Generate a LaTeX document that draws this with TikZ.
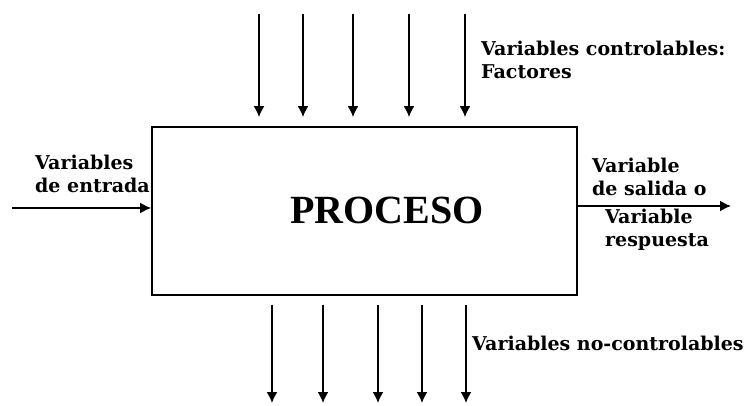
\documentclass[tikz,border=0pt]{standalone}
\usepackage{fontspec}
\setmainfont{DejaVu Serif}
\newfontfamily\procfont{Liberation Serif}
\usetikzlibrary{arrows.meta}

\begin{document}
\begin{tikzpicture}[x=1pt,y=1pt,
        arr/.style={-{Latex[length=11pt,width=11pt]},line width=1.6pt},
        lbl/.style={font=\fontsize{19}{23}\selectfont\bfseries,align=left,inner sep=0pt}]
        \useasboundingbox (0,0) rectangle (748,405);
        \begin{scope}[every node/.style={rectangle,draw,line width=1.8pt}]
            \node (proc) [minimum width=425pt, minimum height=168pt] at (364.5, 194) {};
        \end{scope}
        \node (ptxt) at (387, 195) {\procfont\fontsize{40}{44}\selectfont\bfseries PROCESO};
        % entradas controlables
        \coordinate (t1) at (259, 391);
        \coordinate (t2) at (303, 391);
        \coordinate (t3) at (353, 391);
        \coordinate (t4) at (409, 391);
        \coordinate (t5) at (465, 391);
        \foreach \i in {1,...,5}
            \draw [arr, shorten >=9pt] (t\i) -- (t\i |- proc.north);
        % no controlables
        \coordinate (b1) at (272, 2);
        \coordinate (b2) at (323, 2);
        \coordinate (b3) at (378, 2);
        \coordinate (b4) at (422, 2);
        \coordinate (b5) at (466, 2);
        \foreach \i in {1,...,5}
            \draw [arr, shorten <=9pt] (b\i |- proc.south) -- (b\i);
        % entrada / salida
        \coordinate (in) at (12, 197);
        \coordinate (out) at (731, 199);
        \draw [arr] (in) -- (in -| proc.west);
        \draw [arr] (out -| proc.east) -- (out);
        % textos
        \begin{scope}[every node/.style={lbl}]
            \node (lctrl) [anchor=west] at (481, 345) {Variables controlables:\\Factores};
            \node (lin) [anchor=west] at (35, 231.5) {Variables\\de entrada};
            \node (lout1) [anchor=west] at (592, 228) {Variable\\de salida o};
            \node (lout2) [anchor=west] at (605, 175) {Variable\\respuesta};
            \node (lnoctrl) [anchor=west] at (472, 62) {Variables no-controlables};
        \end{scope}
    \end{tikzpicture}
\end{document}
